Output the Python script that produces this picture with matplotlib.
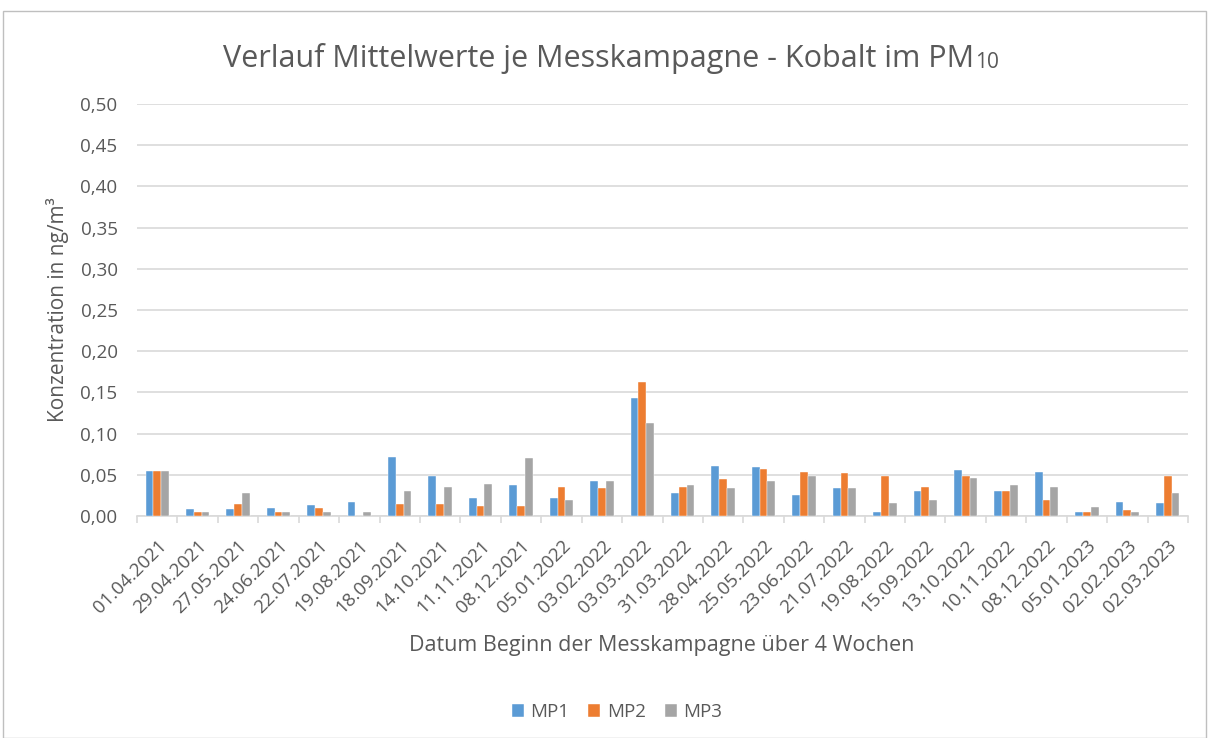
import matplotlib
matplotlib.use("Agg")
import matplotlib.pyplot as plt
from matplotlib.patches import Rectangle
import numpy as np

dates = ["01.04.2021", "29.04.2021", "27.05.2021", "24.06.2021", "22.07.2021", "19.08.2021",
         "18.09.2021", "14.10.2021", "11.11.2021", "08.12.2021", "05.01.2022", "03.02.2022",
         "03.03.2022", "31.03.2022", "28.04.2022", "25.05.2022", "23.06.2022", "21.07.2022",
         "19.08.2022", "15.09.2022", "13.10.2022", "10.11.2022", "08.12.2022", "05.01.2023",
         "02.02.2023", "02.03.2023"]
mp1 = [0.055, 0.008, 0.008, 0.010, 0.013, 0.017, 0.072, 0.048, 0.022, 0.038, 0.022, 0.042,
       0.143, 0.028, 0.061, 0.060, 0.025, 0.034, 0.005, 0.030, 0.056, 0.030, 0.054, 0.005,
       0.017, 0.016]
mp2 = [0.055, 0.005, 0.014, 0.005, 0.010, 0.000, 0.015, 0.015, 0.012, 0.012, 0.035, 0.034,
       0.163, 0.035, 0.045, 0.057, 0.054, 0.052, 0.048, 0.035, 0.049, 0.030, 0.020, 0.005,
       0.007, 0.048]
mp3 = [0.055, 0.005, 0.028, 0.005, 0.005, 0.005, 0.030, 0.035, 0.039, 0.070, 0.020, 0.042,
       0.113, 0.038, 0.034, 0.042, 0.049, 0.034, 0.016, 0.020, 0.046, 0.038, 0.035, 0.011,
       0.005, 0.028]
series = [("MP1", mp1, "#5B9BD5"), ("MP2", mp2, "#ED7D31"), ("MP3", mp3, "#A5A5A5")]
yticks = [0.0, 0.05, 0.10, 0.15, 0.20, 0.25, 0.30, 0.35, 0.40, 0.45, 0.50]

FONT = ["Open Sans", "DejaVu Sans"]
plt.rcParams["font.family"] = FONT
TXT = "#595959"

W, H = 1208, 738
fig = plt.figure(figsize=(W / 100, H / 100), dpi=100)
fig.patches.append(Rectangle((3 / W, 0), (W - 5) / W, (H - 11) / H, transform=fig.transFigure,
                             fill=False, edgecolor="#BFBFBF", linewidth=1))

ax = fig.add_axes([137 / W, 1 - 516 / H, (1188 - 137) / W, (516 - 104) / H])
x = np.arange(len(dates))
bw = 1 / (3 + 2.19)
for i, (name, vals, col) in enumerate(series):
    ax.bar(x + (i - 1) * bw, vals, width=bw, color=col, label=name,
           edgecolor="white", linewidth=0.3, zorder=3)

ax.set_xlim(-0.5, len(dates) - 0.5)
ax.set_ylim(0, 0.5)
ax.set_yticks(yticks)
ax.set_yticklabels([f"{v:.2f}".replace(".", ",") for v in yticks], color=TXT, fontsize=13.5)
ax.yaxis.grid(True, color="#D9D9D9", linewidth=1.2, zorder=0)
ax.tick_params(axis="y", length=0, pad=14)
ax.set_xticks(x)
ax.set_xticklabels(dates, rotation=45, ha="right", rotation_mode="anchor",
                   color=TXT, fontsize=13.5)
ax.tick_params(axis="x", which="major", length=0, pad=15)
ax.set_xticks(np.arange(-0.5, len(dates), 1), minor=True)
ax.tick_params(axis="x", which="minor", length=5, color="#D9D9D9", width=1.2)
for s in ["top", "right", "left"]:
    ax.spines[s].set_visible(False)
ax.spines["bottom"].set_color("#D9D9D9")
ax.spines["bottom"].set_linewidth(1.2)

ax.set_ylabel("Konzentration in ng/m³", color=TXT, fontsize=15, labelpad=8)
fig.text(662 / W, 1 - 646 / H, "Datum Beginn der Messkampagne über 4 Wochen",
         ha="center", va="center", color=TXT, fontsize=15.5)

# title with smaller "10"
t1 = fig.text(0, 1 - 58 / H, "Verlauf Mittelwerte je Messkampagne - Kobalt im PM",
              ha="left", va="center", color=TXT, fontsize=22)
fig.canvas.draw()
r = fig.canvas.get_renderer()
bb1 = t1.get_window_extent(r)
sub = fig.text(0, 1 - 62 / H, "10", ha="left", va="center", color=TXT, fontsize=15)
bb2 = sub.get_window_extent(r)
total = bb1.width + bb2.width
start = 611 - total / 2
t1.set_x(start / W)
sub.set_x((start + bb1.width) / W)

leg = fig.legend(loc="center", bbox_to_anchor=(617 / W, 1 - 712 / H), ncol=3, frameon=False,
                 fontsize=13.5, handlelength=0.65, handleheight=0.65, handletextpad=0.35,
                 columnspacing=1.0)
for t in leg.get_texts():
    t.set_color(TXT)

fig.savefig("out.png", dpi=100)
